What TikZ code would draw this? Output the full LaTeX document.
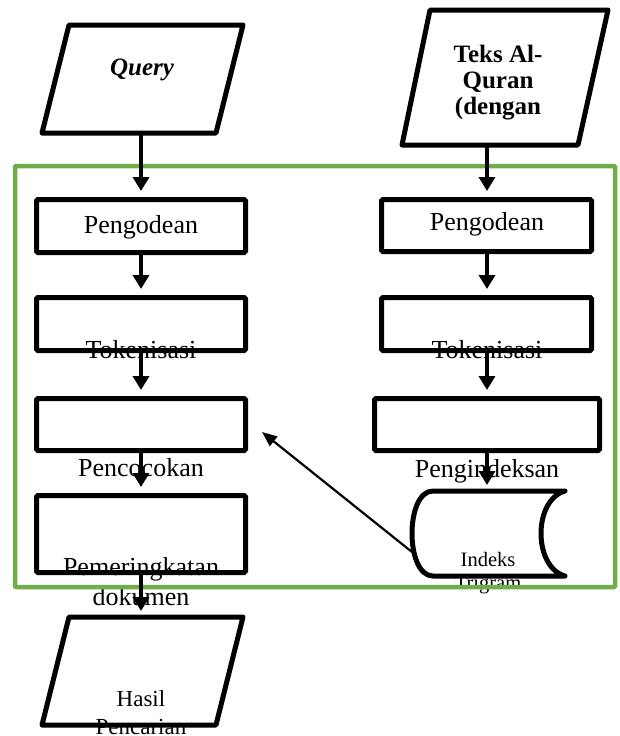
\documentclass[tikz,border=0pt]{standalone}
\usepackage{fontspec}
\setmainfont{Liberation Serif}
\usetikzlibrary{arrows.meta}
\definecolor{grn}{HTML}{70AD47}
\begin{document}
\begin{tikzpicture}[x=1pt,y=-1pt,
  box/.style={draw,line width=5pt,rounded corners=1.5pt,minimum width=#1,inner sep=0pt},
  para/.style={draw,line width=5pt,line join=round},
  lbl/.style={anchor=base,inner sep=0pt,font=\fontsize{26}{28}\selectfont},
  flow/.style={line width=3.6pt,-{Triangle[length=14pt,width=16pt]},shorten >=6pt},
  thin/.style={line width=2.2pt,-{Triangle[length=15pt,width=12pt]}}]
\useasboundingbox (0,0) rectangle (620,736);
% texts (drawn first, shapes overlap them)
\node[lbl,font=\fontsize{25}{27}\selectfont\bfseries\itshape] (tq) at (142,75) {Query};
\node[lbl,font=\fontsize{25}{27}\selectfont\bfseries] (tt1) at (498,62) {Teks Al-};
\node[lbl,font=\fontsize{25}{27}\selectfont\bfseries] (tt2) at (498,88) {Quran};
\node[lbl,font=\fontsize{25}{27}\selectfont\bfseries] (tt3) at (498,114) {(dengan};
\node[lbl] (tl1) at (141,233) {Pengodean};
\node[lbl] (tl2) at (141,358) {Tokenisasi};
\node[lbl] (tl3) at (141,476) {Pencocokan};
\node[lbl] (tl4a) at (141,575) {Pemeringkatan};
\node[lbl] (tl4b) at (141,605) {dokumen};
\node[lbl] (tr1) at (487,230) {Pengodean};
\node[lbl] (tr2) at (487,358) {Tokenisasi};
\node[lbl] (tr3) at (487,477) {Pengindeksan};
\node[lbl,font=\fontsize{20.5}{22}\selectfont] (ti1) at (488,566) {Indeks};
\node[lbl,font=\fontsize{20.5}{22}\selectfont] (ti2) at (488,589) {Trigram};
\node[lbl,font=\fontsize{23}{25}\selectfont] (th1) at (141,706) {Hasil};
\node[lbl,font=\fontsize{23}{25}\selectfont] (th2) at (141,734) {Pencarian};
% green frame
\node[draw=grn,line width=4.5pt,minimum width=600pt,minimum height=421pt,inner sep=0pt,rounded corners=1pt] (frame) at (315,376.5) {};
% parallelograms
\draw[para] (69,25) -- (243,25) -- (216,133) -- (42,133) -- cycle;
\coordinate (qb) at (141,133);
\draw[para] (430,10) -- (608,10) -- (578,145) -- (402,145) -- cycle;
\coordinate (tb) at (487,145);
\draw[para] (69,617) -- (243,617) -- (216,725) -- (42,725) -- cycle;
\coordinate (ht) at (141,617);
% boxes left
\node[box=209pt,minimum height=53pt] (l1) at (141,226) {};
\node[box=209pt,minimum height=53pt] (l2) at (141,324) {};
\node[box=209pt,minimum height=52pt] (l3) at (141,424.5) {};
\node[box=209pt,minimum height=77pt] (l4) at (141,534) {};
% boxes right
\node[box=210pt,minimum height=52pt] (r1) at (486.5,225.5) {};
\node[box=210pt,minimum height=53pt] (r2) at (486.5,324) {};
\node[box=225pt,minimum height=52pt] (r3) at (487,424.5) {};
% stored data
\coordinate (st) at (487,491);
\coordinate (ix) at (412,552);
\draw[line width=5pt,line cap=round,line join=round]
  (565,491) -- (433,491) .. controls (405,491) and (405,576) .. (433,576) -- (565,576)
  .. controls (533,567) and (533,500) .. (565,491);
% arrows
\draw[flow] (qb) -- (l1.north);
\draw[flow] (l1.south) -- (l2.north);
\draw[flow] (l2.south) -- (l3.north);
\draw[flow] (l3.south) -- (l4.north);
\draw[flow] (l4.south) -- (ht);
\draw[flow] (tb) -- (tb |- r1.north);
\draw[flow] (r1.south -| tb) -- (tb |- r2.north);
\draw[flow] (r2.south -| tb) -- (tb |- r3.north);
\draw[flow] (r3.south -| tb) -- (st);
\coordinate (ptip) at (262,432);
\draw[thin] (ix) -- (ptip);
\end{tikzpicture}
\end{document}
